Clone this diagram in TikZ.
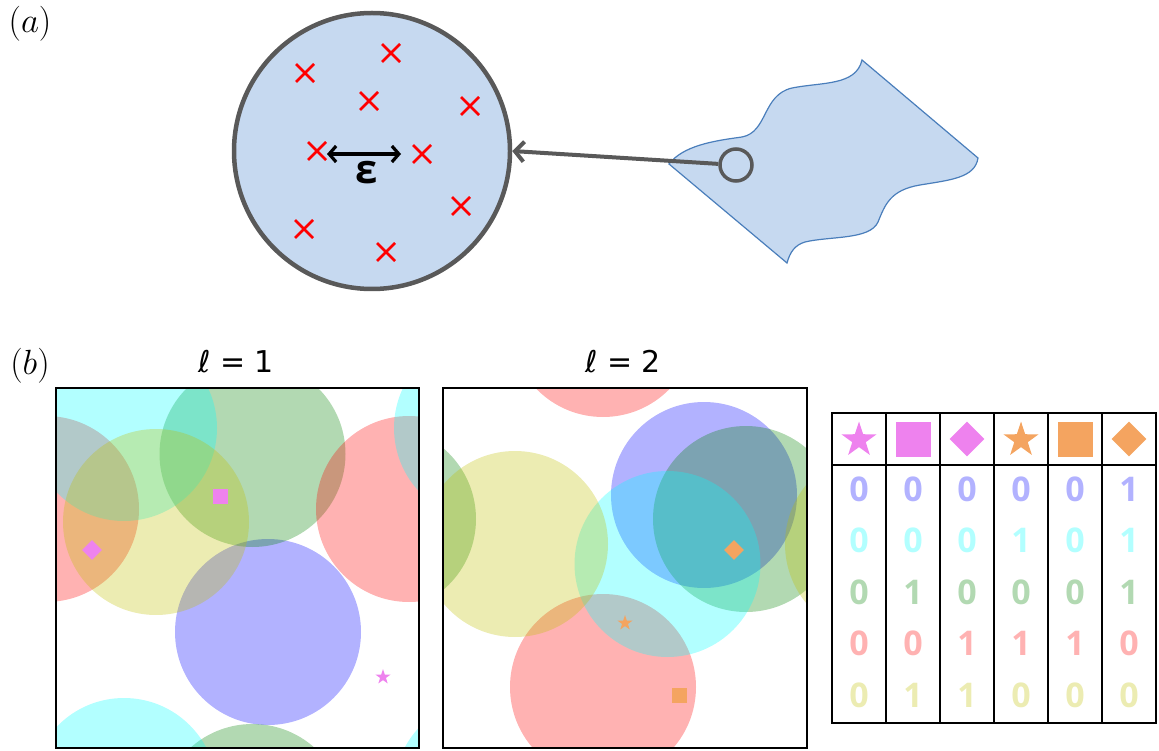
\RequirePackage{fix-cm}
\documentclass[tikz,border=0pt]{standalone}
\usepackage{fontspec}
\newfontfamily\plotfont{DejaVu Sans}
\newfontfamily\tabfont{Open Sans}
\usepackage{tikz}
\usetikzlibrary{shapes.geometric, shapes.misc, arrows.meta}
\definecolor{mplblau}{RGB}{0,0,255}
\definecolor{mplcyan}{RGB}{0,255,255}
\definecolor{mplgruen}{RGB}{0,128,0}
\definecolor{mplrot}{RGB}{255,0,0}
\definecolor{mplgelb}{RGB}{191,191,0}
\definecolor{violett}{RGB}{238,130,238}
\definecolor{sandbraun}{RGB}{244,164,96}
\definecolor{hellblau}{RGB}{198,217,240}
\definecolor{randgrau}{RGB}{89,89,89}
\definecolor{blobrand}{RGB}{74,126,187}

\begin{document}
\begin{tikzpicture}[x=1pt, y=-1pt,
			>={Straight Barb[length=7pt,width=16pt]},   %Pfeilspitzen
			kreuz/.style={draw=mplrot, cross out, line width=2.6pt, minimum size=18pt, inner sep=0pt, outer sep=0pt},
			stern/.style={star, star points=5, star point ratio=2.6, fill=#1, inner sep=0pt, minimum size=16pt},
			quadrat/.style={rectangle, fill=#1, inner sep=0pt, minimum size=15pt},
			raute/.style={diamond, fill=#1, inner sep=0pt, minimum size=20pt},
			ziffer/.style={font=\tabfont\bfseries\fontsize{34}{40}\selectfont, inner sep=0pt},
			titel/.style={font=\plotfont\fontsize{30}{36}\selectfont},
			gitter/.style={line width=2pt}]
			\useasboundingbox (0,0) rectangle (1159,751);
			% Teil (a)
			\node[font=\fontsize{35}{40}\selectfont] (labelA) at (30,23.5) {$(a)$};
			\draw[blobrand, fill=hellblau, line width=1.2pt] (669,164) .. controls (683,146) and (712,141) .. (742,137)
				.. controls (768,132) and (762,95) .. (792,88) .. controls (822,82) and (856,86) .. (862,60) -- (978,158)
				.. controls (975,178) and (950,180) .. (920,185) .. controls (890,190) and (885,205) .. (878,222)
				.. controls (870,240) and (830,236) .. (805,242) .. controls (795,245) and (790,252) .. (787,263) -- cycle;
			\node[circle, draw=randgrau, fill=hellblau, line width=4.5pt, minimum size=276pt, inner sep=0pt] (scheibe) at (372,151) {};
			\node[circle, draw=randgrau, line width=3.5pt, minimum size=32pt, inner sep=0pt] (probe) at (736,165) {};
			\draw[randgrau, line width=4pt, -{Straight Barb[length=9pt,width=20pt]}] (probe) -- (scheibe.east);
			\foreach \n/\x/\y in {1/305/73,2/391/53,3/369/101,4/470/106,5/317/151,6/422/154,7/461/206,8/304/229,9/386/252}
				\node[kreuz] (x\n) at (\x,\y) {};
			\draw[<->, line width=3.2pt, shorten <=1pt, shorten >=12pt] (x5.east |- 0,154) -- (x6.west |- 0,154);
			\node[font=\tabfont\bfseries\fontsize{40}{46}\selectfont] (eps) at (367,173) {ε};
			% Teil (b)
			\node[font=\fontsize{35}{40}\selectfont] (labelB) at (30,366) {$(b)$};
			\node[titel] (titel1) at (236,362) {ℓ = 1};
			\node[titel] (titel2) at (623,362) {ℓ = 2};
			% Scheiben mit periodischem Rand
			\begin{scope}[shift={(56,388)}]
				\clip (0,0) rectangle (363,360);
				\foreach \farbe/\cx/\cy in {mplblau/212/244, mplgruen/196.5/66, mplrot/353/121, mplcyan/68/40, mplgelb/100/134}
					\foreach \dx in {-1,0,1} \foreach \dy in {-1,0,1}
						\fill[\farbe, opacity=0.3] (\cx+363*\dx,\cy+363*\dy) circle (93);
			\end{scope}
			\begin{scope}[shift={(443,388)}]
				\clip (0,0) rectangle (364,360);
				\foreach \farbe/\cx/\cy in {mplblau/261/107, mplgruen/303/131, mplrot/160/-64, mplcyan/224.5/176, mplgelb/72/156}
					\foreach \dx in {-1,0,1} \foreach \dy in {-1,0,1}
						\fill[\farbe, opacity=0.3] (\cx+363*\dx,\cy+363*\dy) circle (93);
			\end{scope}
			\draw[gitter] (56,388) rectangle (419,748);
			\draw[gitter] (443,388) rectangle (807,748);
			% Marker
			\node[quadrat=violett] (m1) at (220,496) {};
			\node[raute=violett] (m2) at (92,550) {};
			\node[stern=violett] (m3) at (383,677) {};
			\node[raute=sandbraun] (m4) at (734,550) {};
			\node[stern=sandbraun] (m5) at (625,623) {};
			\node[quadrat=sandbraun] (m6) at (679,695) {};
			% Tabelle
			\draw[gitter] (832,413) rectangle (1156,723);
			\draw[gitter] (832,465) -- (1156,465);
			\foreach \x in {886,940,994,1048,1102} \draw[gitter] (\x,413) -- (\x,723);
			\node[stern=violett, minimum size=37pt] (k1) at (859,440) {};
			\node[quadrat=violett, minimum size=35pt] (k2) at (913,439) {};
			\node[raute=violett, minimum size=35pt] (k3) at (967,439) {};
			\node[stern=sandbraun, minimum size=37pt] (k4) at (1021,440) {};
			\node[quadrat=sandbraun, minimum size=35pt] (k5) at (1075,439) {};
			\node[raute=sandbraun, minimum size=35pt] (k6) at (1129,439) {};
			\foreach \z/\farbe/\werte in {1/mplblau/{0,0,0,0,0,1}, 2/mplcyan/{0,0,0,1,0,1}, 3/mplgruen/{0,1,0,0,0,1}, 4/mplrot/{0,0,1,1,1,0}, 5/mplgelb/{0,1,1,0,0,0}}
				\foreach \w [count=\s] in \werte
					\node[ziffer, text=\farbe!30] (d\z\s) at ({805+54*\s},{437.5+51.5*\z}) {\w};
		\end{tikzpicture}
\end{document}
